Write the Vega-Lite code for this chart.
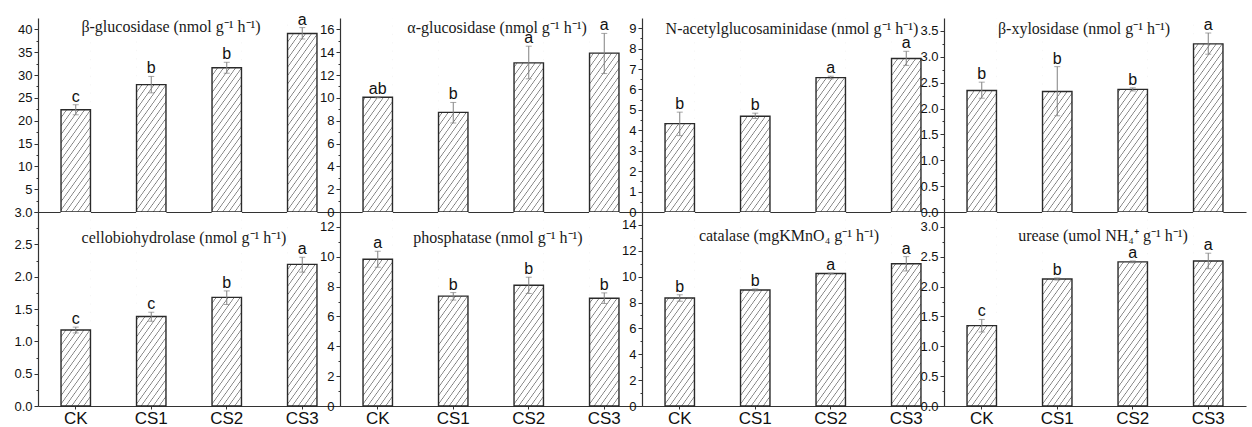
{
"$schema": "https://vega.github.io/schema/vega-lite/v6.json",
"padding": {"left": 13, "top": 11, "right": 2, "bottom": 0},
"background": "white",
"datasets": {"enz": [
{"panel": "bglu", "treatment": "CK", "mean": 22.4, "lo": 21.3, "hi": 23.5, "letter": "c"},
{"panel": "bglu", "treatment": "CS1", "mean": 27.9, "lo": 26.1, "hi": 29.7, "letter": "b"},
{"panel": "bglu", "treatment": "CS2", "mean": 31.6, "lo": 30.4, "hi": 32.8, "letter": "b"},
{"panel": "bglu", "treatment": "CS3", "mean": 39.1, "lo": 37.9, "hi": 40.4, "letter": "a"},
{"panel": "aglu", "treatment": "CK", "mean": 10.05, "lo": 10.0, "hi": 10.1, "letter": "ab"},
{"panel": "aglu", "treatment": "CS1", "mean": 8.73, "lo": 7.8, "hi": 9.6, "letter": "b"},
{"panel": "aglu", "treatment": "CS2", "mean": 13.07, "lo": 11.67, "hi": 14.53, "letter": "a"},
{"panel": "aglu", "treatment": "CS3", "mean": 13.92, "lo": 12.13, "hi": 15.65, "letter": "a"},
{"panel": "nag", "treatment": "CK", "mean": 4.33, "lo": 3.74, "hi": 4.89, "letter": "b"},
{"panel": "nag", "treatment": "CS1", "mean": 4.69, "lo": 4.58, "hi": 4.84, "letter": "b"},
{"panel": "nag", "treatment": "CS2", "mean": 6.58, "lo": 6.52, "hi": 6.65, "letter": "a"},
{"panel": "nag", "treatment": "CS3", "mean": 7.52, "lo": 7.18, "hi": 7.87, "letter": "a"},
{"panel": "bxyl", "treatment": "CK", "mean": 2.35, "lo": 2.2, "hi": 2.51, "letter": "b"},
{"panel": "bxyl", "treatment": "CS1", "mean": 2.33, "lo": 1.86, "hi": 2.81, "letter": "b"},
{"panel": "bxyl", "treatment": "CS2", "mean": 2.37, "lo": 2.34, "hi": 2.4, "letter": "b"},
{"panel": "bxyl", "treatment": "CS3", "mean": 3.25, "lo": 3.05, "hi": 3.46, "letter": "a"},
{"panel": "cbh", "treatment": "CK", "mean": 1.175, "lo": 1.13, "hi": 1.22, "letter": "c"},
{"panel": "cbh", "treatment": "CS1", "mean": 1.385, "lo": 1.31, "hi": 1.45, "letter": "c"},
{"panel": "cbh", "treatment": "CS2", "mean": 1.68, "lo": 1.57, "hi": 1.78, "letter": "b"},
{"panel": "cbh", "treatment": "CS3", "mean": 2.19, "lo": 2.07, "hi": 2.3, "letter": "a"},
{"panel": "phos", "treatment": "CK", "mean": 9.83, "lo": 9.3, "hi": 10.37, "letter": "a"},
{"panel": "phos", "treatment": "CS1", "mean": 7.36, "lo": 7.1, "hi": 7.6, "letter": "b"},
{"panel": "phos", "treatment": "CS2", "mean": 8.09, "lo": 7.54, "hi": 8.63, "letter": "b"},
{"panel": "phos", "treatment": "CS3", "mean": 7.22, "lo": 6.87, "hi": 7.58, "letter": "b"},
{"panel": "cat", "treatment": "CK", "mean": 8.35, "lo": 8.1, "hi": 8.6, "letter": "b"},
{"panel": "cat", "treatment": "CS1", "mean": 8.97, "lo": 8.9, "hi": 9.05, "letter": "b"},
{"panel": "cat", "treatment": "CS2", "mean": 10.24, "lo": 10.21, "hi": 10.27, "letter": "a"},
{"panel": "cat", "treatment": "CS3", "mean": 11.0, "lo": 10.44, "hi": 11.55, "letter": "a"},
{"panel": "ure", "treatment": "CK", "mean": 1.347, "lo": 1.24, "hi": 1.45, "letter": "c"},
{"panel": "ure", "treatment": "CS1", "mean": 2.128, "lo": 2.11, "hi": 2.145, "letter": "b"},
{"panel": "ure", "treatment": "CS2", "mean": 2.414, "lo": 2.4, "hi": 2.43, "letter": "a"},
{"panel": "ure", "treatment": "CS3", "mean": 2.43, "lo": 2.3, "hi": 2.56, "letter": "a"}
]},
"config": {
  "view": {"stroke": null},
  "axis": {"grid": false, "domainColor": "#333", "domainWidth": 1.2, "tickColor": "#333", "tickWidth": 1, "labelFont": "Liberation Sans", "labelColor": "#111", "zindex": 1, "labelOverlap": false},
  "axisY": {"labelFontSize": 13, "labelPadding": 2, "labelOverlap": false, "tickCount": 100},
  "axisX": {"labelFontSize": 17, "labelPadding": 1, "tickSize": 3, "labelAngle": 0},
  "title": {"font": "Liberation Serif", "fontSize": 16, "fontWeight": "normal", "color": "#1a1a1a", "anchor": "middle", "orient": "none", "frame": "group", "align": "center", "offset": 0},
  "bar": {"stroke": null, "fill": {"gradient": "linear", "x1": 0, "y1": 0, "x2": 0.246, "y2": 1.16, "stops": [
{"offset": 0, "color": "#ffffff"}, {"offset": 0.0257, "color": "#ffffff"}, {"offset": 0.0307, "color": "#777777"},
{"offset": 0.0357, "color": "#ffffff"}, {"offset": 0.0614, "color": "#ffffff"}, {"offset": 0.0664, "color": "#777777"},
{"offset": 0.0714, "color": "#ffffff"}, {"offset": 0.0971, "color": "#ffffff"}, {"offset": 0.1021, "color": "#777777"},
{"offset": 0.1071, "color": "#ffffff"}, {"offset": 0.1329, "color": "#ffffff"}, {"offset": 0.1379, "color": "#777777"},
{"offset": 0.1429, "color": "#ffffff"}, {"offset": 0.1686, "color": "#ffffff"}, {"offset": 0.1736, "color": "#777777"},
{"offset": 0.1786, "color": "#ffffff"}, {"offset": 0.2043, "color": "#ffffff"}, {"offset": 0.2093, "color": "#777777"},
{"offset": 0.2143, "color": "#ffffff"}, {"offset": 0.2400, "color": "#ffffff"}, {"offset": 0.2450, "color": "#777777"},
{"offset": 0.2500, "color": "#ffffff"}, {"offset": 0.2757, "color": "#ffffff"}, {"offset": 0.2807, "color": "#777777"},
{"offset": 0.2857, "color": "#ffffff"}, {"offset": 0.3114, "color": "#ffffff"}, {"offset": 0.3164, "color": "#777777"},
{"offset": 0.3214, "color": "#ffffff"}, {"offset": 0.3471, "color": "#ffffff"}, {"offset": 0.3521, "color": "#777777"},
{"offset": 0.3571, "color": "#ffffff"}, {"offset": 0.3829, "color": "#ffffff"}, {"offset": 0.3879, "color": "#777777"},
{"offset": 0.3929, "color": "#ffffff"}, {"offset": 0.4186, "color": "#ffffff"}, {"offset": 0.4236, "color": "#777777"},
{"offset": 0.4286, "color": "#ffffff"}, {"offset": 0.4543, "color": "#ffffff"}, {"offset": 0.4593, "color": "#777777"},
{"offset": 0.4643, "color": "#ffffff"}, {"offset": 0.4900, "color": "#ffffff"}, {"offset": 0.4950, "color": "#777777"},
{"offset": 0.5000, "color": "#ffffff"}, {"offset": 0.5257, "color": "#ffffff"}, {"offset": 0.5307, "color": "#777777"},
{"offset": 0.5357, "color": "#ffffff"}, {"offset": 0.5614, "color": "#ffffff"}, {"offset": 0.5664, "color": "#777777"},
{"offset": 0.5714, "color": "#ffffff"}, {"offset": 0.5971, "color": "#ffffff"}, {"offset": 0.6021, "color": "#777777"},
{"offset": 0.6071, "color": "#ffffff"}, {"offset": 0.6329, "color": "#ffffff"}, {"offset": 0.6379, "color": "#777777"},
{"offset": 0.6429, "color": "#ffffff"}, {"offset": 0.6686, "color": "#ffffff"}, {"offset": 0.6736, "color": "#777777"},
{"offset": 0.6786, "color": "#ffffff"}, {"offset": 0.7043, "color": "#ffffff"}, {"offset": 0.7093, "color": "#777777"},
{"offset": 0.7143, "color": "#ffffff"}, {"offset": 0.7400, "color": "#ffffff"}, {"offset": 0.7450, "color": "#777777"},
{"offset": 0.7500, "color": "#ffffff"}, {"offset": 0.7757, "color": "#ffffff"}, {"offset": 0.7807, "color": "#777777"},
{"offset": 0.7857, "color": "#ffffff"}, {"offset": 0.8114, "color": "#ffffff"}, {"offset": 0.8164, "color": "#777777"},
{"offset": 0.8214, "color": "#ffffff"}, {"offset": 0.8471, "color": "#ffffff"}, {"offset": 0.8521, "color": "#777777"},
{"offset": 0.8571, "color": "#ffffff"}, {"offset": 0.8829, "color": "#ffffff"}, {"offset": 0.8879, "color": "#777777"},
{"offset": 0.8929, "color": "#ffffff"}, {"offset": 0.9186, "color": "#ffffff"}, {"offset": 0.9236, "color": "#777777"},
{"offset": 0.9286, "color": "#ffffff"}, {"offset": 0.9543, "color": "#ffffff"}, {"offset": 0.9593, "color": "#777777"},
{"offset": 0.9643, "color": "#ffffff"}, {"offset": 0.9900, "color": "#ffffff"}, {"offset": 0.9950, "color": "#777777"},
{"offset": 1, "color": "#ffffff"}
    ]}}
},
"columns": 4,
"spacing": 0,
"bounds": "flush",
"concat": [
{
 "width": 302, "height": 194,
 "title": {"text": "β-glucosidase (nmol g⁻¹ h⁻¹)", "dx": 133, "dy": 1},
 "data": {"name": "enz"},
 "transform": [{"filter": "datum.panel === 'bglu'"}],
 "encoding": {"x": {"field": "treatment", "type": "nominal", "sort": ["CK", "CS1", "CS2", "CS3"], "title": null, "scale": {"paddingInner": 0, "paddingOuter": 0}, "axis": {"labels": false}}},
 "layer": [
  {"mark": {"type": "bar", "width": {"band": 0.39}}, "encoding": {"y": {"datum": 42.5, "type": "quantitative", "title": null}, "y2": {"datum": 0}}},
  {"mark": {"type": "bar", "fill": "white", "stroke": null, "width": {"band": 0.4}}, "encoding": {"y": {"field": "mean", "type": "quantitative", "title": null, "scale": {"domain": [0, 42.5], "nice": false}, "axis": {"tickCount": 100, "labelOverlap": false, "values": [0, 2.5, 5, 7.5, 10, 12.5, 15, 17.5, 20, 22.5, 25, 27.5, 30, 32.5, 35, 37.5, 40], "labelExpr": "datum.value % 5 === 0 && datum.value > 0 ? format(datum.value, 'd') : ''", "tickSize": {"condition": {"test": "datum.value % 5 === 0", "value": 4}, "value": 2}}}, "y2": {"datum": 42.5}}},
  {"mark": {"type": "bar", "fill": "white", "fillOpacity": 0, "stroke": "#2a2a2a", "strokeWidth": 1.4, "width": {"band": 0.39}}, "encoding": {"y": {"field": "mean", "type": "quantitative", "title": null}}},
  {"mark": {"type": "rule", "color": "#808080", "strokeWidth": 1}, "encoding": {"y": {"field": "lo", "type": "quantitative", "title": null}, "y2": {"field": "hi"}}},
  {"mark": {"type": "tick", "color": "#808080", "size": 6, "thickness": 1}, "encoding": {"y": {"field": "lo", "type": "quantitative", "title": null}}},
  {"mark": {"type": "tick", "color": "#808080", "size": 6, "thickness": 1}, "encoding": {"y": {"field": "hi", "type": "quantitative", "title": null}}},
  {"mark": {"type": "text", "font": "Liberation Sans", "fontSize": 16, "baseline": "alphabetic", "dy": -3, "color": "#111"}, "encoding": {"y": {"field": "hi", "type": "quantitative", "title": null}, "text": {"field": "letter"}}}
 ]
},
{
 "width": 302, "height": 194,
 "title": {"text": "α-glucosidase (nmol g⁻¹ h⁻¹)", "dx": 157, "dy": 2},
 "data": {"name": "enz"},
 "transform": [{"filter": "datum.panel === 'aglu'"}],
 "encoding": {"x": {"field": "treatment", "type": "nominal", "sort": ["CK", "CS1", "CS2", "CS3"], "title": null, "scale": {"paddingInner": 0, "paddingOuter": 0}, "axis": {"labels": false}}},
 "layer": [
  {"mark": {"type": "bar", "width": {"band": 0.39}}, "encoding": {"y": {"datum": 17, "type": "quantitative", "title": null}, "y2": {"datum": 0}}},
  {"mark": {"type": "bar", "fill": "white", "stroke": null, "width": {"band": 0.4}}, "encoding": {"y": {"field": "mean", "type": "quantitative", "title": null, "scale": {"domain": [0, 17], "nice": false}, "axis": {"tickCount": 100, "labelOverlap": false, "values": [0, 1, 2, 3, 4, 5, 6, 7, 8, 9, 10, 11, 12, 13, 14, 15, 16], "labelExpr": "datum.value % 2 === 0 ? format(datum.value, 'd') : ''", "tickSize": {"condition": {"test": "datum.value % 2 === 0", "value": 4}, "value": 2}}}, "y2": {"datum": 17}}},
  {"mark": {"type": "bar", "fill": "white", "fillOpacity": 0, "stroke": "#2a2a2a", "strokeWidth": 1.4, "width": {"band": 0.39}}, "encoding": {"y": {"field": "mean", "type": "quantitative", "title": null}}},
  {"mark": {"type": "rule", "color": "#808080", "strokeWidth": 1}, "encoding": {"y": {"field": "lo", "type": "quantitative", "title": null}, "y2": {"field": "hi"}}},
  {"mark": {"type": "tick", "color": "#808080", "size": 6, "thickness": 1}, "encoding": {"y": {"field": "lo", "type": "quantitative", "title": null}}},
  {"mark": {"type": "tick", "color": "#808080", "size": 6, "thickness": 1}, "encoding": {"y": {"field": "hi", "type": "quantitative", "title": null}}},
  {"mark": {"type": "text", "font": "Liberation Sans", "fontSize": 16, "baseline": "alphabetic", "dy": -3, "color": "#111"}, "encoding": {"y": {"field": "hi", "type": "quantitative", "title": null}, "text": {"field": "letter"}}}
 ]
},
{
 "width": 302, "height": 194,
 "title": {"text": "N-acetylglucosaminidase (nmol g⁻¹ h⁻¹)", "dx": 150, "dy": 3},
 "data": {"name": "enz"},
 "transform": [{"filter": "datum.panel === 'nag'"}],
 "encoding": {"x": {"field": "treatment", "type": "nominal", "sort": ["CK", "CS1", "CS2", "CS3"], "title": null, "scale": {"paddingInner": 0, "paddingOuter": 0}, "axis": {"labels": false}}},
 "layer": [
  {"mark": {"type": "bar", "width": {"band": 0.39}}, "encoding": {"y": {"datum": 9.5, "type": "quantitative", "title": null}, "y2": {"datum": 0}}},
  {"mark": {"type": "bar", "fill": "white", "stroke": null, "width": {"band": 0.4}}, "encoding": {"y": {"field": "mean", "type": "quantitative", "title": null, "scale": {"domain": [0, 9.5], "nice": false}, "axis": {"tickCount": 100, "labelOverlap": false, "values": [0, 0.5, 1, 1.5, 2, 2.5, 3, 3.5, 4, 4.5, 5, 5.5, 6, 6.5, 7, 7.5, 8, 8.5, 9], "labelExpr": "datum.value % 1 === 0 ? format(datum.value, 'd') : ''", "tickSize": {"condition": {"test": "datum.value % 1 === 0", "value": 4}, "value": 2}}}, "y2": {"datum": 9.5}}},
  {"mark": {"type": "bar", "fill": "white", "fillOpacity": 0, "stroke": "#2a2a2a", "strokeWidth": 1.4, "width": {"band": 0.39}}, "encoding": {"y": {"field": "mean", "type": "quantitative", "title": null}}},
  {"mark": {"type": "rule", "color": "#808080", "strokeWidth": 1}, "encoding": {"y": {"field": "lo", "type": "quantitative", "title": null}, "y2": {"field": "hi"}}},
  {"mark": {"type": "tick", "color": "#808080", "size": 6, "thickness": 1}, "encoding": {"y": {"field": "lo", "type": "quantitative", "title": null}}},
  {"mark": {"type": "tick", "color": "#808080", "size": 6, "thickness": 1}, "encoding": {"y": {"field": "hi", "type": "quantitative", "title": null}}},
  {"mark": {"type": "text", "font": "Liberation Sans", "fontSize": 16, "baseline": "alphabetic", "dy": -3, "color": "#111"}, "encoding": {"y": {"field": "hi", "type": "quantitative", "title": null}, "text": {"field": "letter"}}}
 ]
},
{
 "width": 302, "height": 194,
 "title": {"text": "β-xylosidase (nmol g⁻¹ h⁻¹)", "dx": 140, "dy": 3},
 "data": {"name": "enz"},
 "transform": [{"filter": "datum.panel === 'bxyl'"}],
 "encoding": {"x": {"field": "treatment", "type": "nominal", "sort": ["CK", "CS1", "CS2", "CS3"], "title": null, "scale": {"paddingInner": 0, "paddingOuter": 0}, "axis": {"labels": false}}},
 "layer": [
  {"mark": {"type": "bar", "width": {"band": 0.39}}, "encoding": {"y": {"datum": 3.75, "type": "quantitative", "title": null}, "y2": {"datum": 0}}},
  {"mark": {"type": "bar", "fill": "white", "stroke": null, "width": {"band": 0.4}}, "encoding": {"y": {"field": "mean", "type": "quantitative", "title": null, "scale": {"domain": [0, 3.75], "nice": false}, "axis": {"tickCount": 100, "labelOverlap": false, "values": [0, 0.25, 0.5, 0.75, 1, 1.25, 1.5, 1.75, 2, 2.25, 2.5, 2.75, 3, 3.25, 3.5], "labelExpr": "datum.value % 0.5 === 0 ? format(datum.value, '.1f') : ''", "tickSize": {"condition": {"test": "datum.value % 0.5 === 0", "value": 4}, "value": 2}}}, "y2": {"datum": 3.75}}},
  {"mark": {"type": "bar", "fill": "white", "fillOpacity": 0, "stroke": "#2a2a2a", "strokeWidth": 1.4, "width": {"band": 0.39}}, "encoding": {"y": {"field": "mean", "type": "quantitative", "title": null}}},
  {"mark": {"type": "rule", "color": "#808080", "strokeWidth": 1}, "encoding": {"y": {"field": "lo", "type": "quantitative", "title": null}, "y2": {"field": "hi"}}},
  {"mark": {"type": "tick", "color": "#808080", "size": 6, "thickness": 1}, "encoding": {"y": {"field": "lo", "type": "quantitative", "title": null}}},
  {"mark": {"type": "tick", "color": "#808080", "size": 6, "thickness": 1}, "encoding": {"y": {"field": "hi", "type": "quantitative", "title": null}}},
  {"mark": {"type": "text", "font": "Liberation Sans", "fontSize": 16, "baseline": "alphabetic", "dy": -3, "color": "#111"}, "encoding": {"y": {"field": "hi", "type": "quantitative", "title": null}, "text": {"field": "letter"}}}
 ]
},
{
 "width": 302, "height": 194,
 "title": {"text": "cellobiohydrolase (nmol g⁻¹ h⁻¹)", "dx": 146, "dy": 18},
 "data": {"name": "enz"},
 "transform": [{"filter": "datum.panel === 'cbh'"}],
 "encoding": {"x": {"field": "treatment", "type": "nominal", "sort": ["CK", "CS1", "CS2", "CS3"], "title": null, "scale": {"paddingInner": 0, "paddingOuter": 0}}},
 "layer": [
  {"mark": {"type": "bar", "width": {"band": 0.39}}, "encoding": {"y": {"datum": 3, "type": "quantitative", "title": null}, "y2": {"datum": 0}}},
  {"mark": {"type": "bar", "fill": "white", "stroke": null, "width": {"band": 0.4}}, "encoding": {"y": {"field": "mean", "type": "quantitative", "title": null, "scale": {"domain": [0, 3], "nice": false}, "axis": {"tickCount": 100, "labelOverlap": false, "values": [0, 0.25, 0.5, 0.75, 1, 1.25, 1.5, 1.75, 2, 2.25, 2.5, 2.75, 3], "labelExpr": "datum.value % 0.5 === 0 ? format(datum.value, '.1f') : ''", "tickSize": {"condition": {"test": "datum.value % 0.5 === 0", "value": 4}, "value": 2}}}, "y2": {"datum": 3}}},
  {"mark": {"type": "bar", "fill": "white", "fillOpacity": 0, "stroke": "#2a2a2a", "strokeWidth": 1.4, "width": {"band": 0.39}}, "encoding": {"y": {"field": "mean", "type": "quantitative", "title": null}}},
  {"mark": {"type": "rule", "color": "#808080", "strokeWidth": 1}, "encoding": {"y": {"field": "lo", "type": "quantitative", "title": null}, "y2": {"field": "hi"}}},
  {"mark": {"type": "tick", "color": "#808080", "size": 6, "thickness": 1}, "encoding": {"y": {"field": "lo", "type": "quantitative", "title": null}}},
  {"mark": {"type": "tick", "color": "#808080", "size": 6, "thickness": 1}, "encoding": {"y": {"field": "hi", "type": "quantitative", "title": null}}},
  {"mark": {"type": "text", "font": "Liberation Sans", "fontSize": 16, "baseline": "alphabetic", "dy": -3, "color": "#111"}, "encoding": {"y": {"field": "hi", "type": "quantitative", "title": null}, "text": {"field": "letter"}}}
 ]
},
{
 "width": 302, "height": 194,
 "title": {"text": "phosphatase (nmol g⁻¹ h⁻¹)", "dx": 158, "dy": 18},
 "data": {"name": "enz"},
 "transform": [{"filter": "datum.panel === 'phos'"}],
 "encoding": {"x": {"field": "treatment", "type": "nominal", "sort": ["CK", "CS1", "CS2", "CS3"], "title": null, "scale": {"paddingInner": 0, "paddingOuter": 0}}},
 "layer": [
  {"mark": {"type": "bar", "width": {"band": 0.39}}, "encoding": {"y": {"datum": 13, "type": "quantitative", "title": null}, "y2": {"datum": 0}}},
  {"mark": {"type": "bar", "fill": "white", "stroke": null, "width": {"band": 0.4}}, "encoding": {"y": {"field": "mean", "type": "quantitative", "title": null, "scale": {"domain": [0, 13], "nice": false}, "axis": {"tickCount": 100, "labelOverlap": false, "values": [0, 1, 2, 3, 4, 5, 6, 7, 8, 9, 10, 11, 12], "labelExpr": "datum.value % 2 === 0 ? format(datum.value, 'd') : ''", "tickSize": {"condition": {"test": "datum.value % 2 === 0", "value": 4}, "value": 2}}}, "y2": {"datum": 13}}},
  {"mark": {"type": "bar", "fill": "white", "fillOpacity": 0, "stroke": "#2a2a2a", "strokeWidth": 1.4, "width": {"band": 0.39}}, "encoding": {"y": {"field": "mean", "type": "quantitative", "title": null}}},
  {"mark": {"type": "rule", "color": "#808080", "strokeWidth": 1}, "encoding": {"y": {"field": "lo", "type": "quantitative", "title": null}, "y2": {"field": "hi"}}},
  {"mark": {"type": "tick", "color": "#808080", "size": 6, "thickness": 1}, "encoding": {"y": {"field": "lo", "type": "quantitative", "title": null}}},
  {"mark": {"type": "tick", "color": "#808080", "size": 6, "thickness": 1}, "encoding": {"y": {"field": "hi", "type": "quantitative", "title": null}}},
  {"mark": {"type": "text", "font": "Liberation Sans", "fontSize": 16, "baseline": "alphabetic", "dy": -3, "color": "#111"}, "encoding": {"y": {"field": "hi", "type": "quantitative", "title": null}, "text": {"field": "letter"}}}
 ]
},
{
 "width": 302, "height": 194,
 "title": {"text": "catalase (mgKMnO₄ g⁻¹ h⁻¹)", "dx": 147, "dy": 16},
 "data": {"name": "enz"},
 "transform": [{"filter": "datum.panel === 'cat'"}],
 "encoding": {"x": {"field": "treatment", "type": "nominal", "sort": ["CK", "CS1", "CS2", "CS3"], "title": null, "scale": {"paddingInner": 0, "paddingOuter": 0}}},
 "layer": [
  {"mark": {"type": "bar", "width": {"band": 0.39}}, "encoding": {"y": {"datum": 15, "type": "quantitative", "title": null}, "y2": {"datum": 0}}},
  {"mark": {"type": "bar", "fill": "white", "stroke": null, "width": {"band": 0.4}}, "encoding": {"y": {"field": "mean", "type": "quantitative", "title": null, "scale": {"domain": [0, 15], "nice": false}, "axis": {"tickCount": 100, "labelOverlap": false, "values": [0, 1, 2, 3, 4, 5, 6, 7, 8, 9, 10, 11, 12, 13, 14], "labelExpr": "datum.value % 2 === 0 ? format(datum.value, 'd') : ''", "tickSize": {"condition": {"test": "datum.value % 2 === 0", "value": 4}, "value": 2}}}, "y2": {"datum": 15}}},
  {"mark": {"type": "bar", "fill": "white", "fillOpacity": 0, "stroke": "#2a2a2a", "strokeWidth": 1.4, "width": {"band": 0.39}}, "encoding": {"y": {"field": "mean", "type": "quantitative", "title": null}}},
  {"mark": {"type": "rule", "color": "#808080", "strokeWidth": 1}, "encoding": {"y": {"field": "lo", "type": "quantitative", "title": null}, "y2": {"field": "hi"}}},
  {"mark": {"type": "tick", "color": "#808080", "size": 6, "thickness": 1}, "encoding": {"y": {"field": "lo", "type": "quantitative", "title": null}}},
  {"mark": {"type": "tick", "color": "#808080", "size": 6, "thickness": 1}, "encoding": {"y": {"field": "hi", "type": "quantitative", "title": null}}},
  {"mark": {"type": "text", "font": "Liberation Sans", "fontSize": 16, "baseline": "alphabetic", "dy": -3, "color": "#111"}, "encoding": {"y": {"field": "hi", "type": "quantitative", "title": null}, "text": {"field": "letter"}}}
 ]
},
{
 "width": 302, "height": 194,
 "title": {"text": "urease (umol NH₄⁺ g⁻¹ h⁻¹)", "dx": 159, "dy": 16},
 "data": {"name": "enz"},
 "transform": [{"filter": "datum.panel === 'ure'"}],
 "encoding": {"x": {"field": "treatment", "type": "nominal", "sort": ["CK", "CS1", "CS2", "CS3"], "title": null, "scale": {"paddingInner": 0, "paddingOuter": 0}}},
 "layer": [
  {"mark": {"type": "bar", "width": {"band": 0.39}}, "encoding": {"y": {"datum": 3.25, "type": "quantitative", "title": null}, "y2": {"datum": 0}}},
  {"mark": {"type": "bar", "fill": "white", "stroke": null, "width": {"band": 0.4}}, "encoding": {"y": {"field": "mean", "type": "quantitative", "title": null, "scale": {"domain": [0, 3.25], "nice": false}, "axis": {"tickCount": 100, "labelOverlap": false, "values": [0, 0.25, 0.5, 0.75, 1, 1.25, 1.5, 1.75, 2, 2.25, 2.5, 2.75, 3], "labelExpr": "datum.value % 0.5 === 0 ? format(datum.value, '.1f') : ''", "tickSize": {"condition": {"test": "datum.value % 0.5 === 0", "value": 4}, "value": 2}}}, "y2": {"datum": 3.25}}},
  {"mark": {"type": "bar", "fill": "white", "fillOpacity": 0, "stroke": "#2a2a2a", "strokeWidth": 1.4, "width": {"band": 0.39}}, "encoding": {"y": {"field": "mean", "type": "quantitative", "title": null}}},
  {"mark": {"type": "rule", "color": "#808080", "strokeWidth": 1}, "encoding": {"y": {"field": "lo", "type": "quantitative", "title": null}, "y2": {"field": "hi"}}},
  {"mark": {"type": "tick", "color": "#808080", "size": 6, "thickness": 1}, "encoding": {"y": {"field": "lo", "type": "quantitative", "title": null}}},
  {"mark": {"type": "tick", "color": "#808080", "size": 6, "thickness": 1}, "encoding": {"y": {"field": "hi", "type": "quantitative", "title": null}}},
  {"mark": {"type": "text", "font": "Liberation Sans", "fontSize": 16, "baseline": "alphabetic", "dy": -3, "color": "#111"}, "encoding": {"y": {"field": "hi", "type": "quantitative", "title": null}, "text": {"field": "letter"}}}
 ]
}
]
}
